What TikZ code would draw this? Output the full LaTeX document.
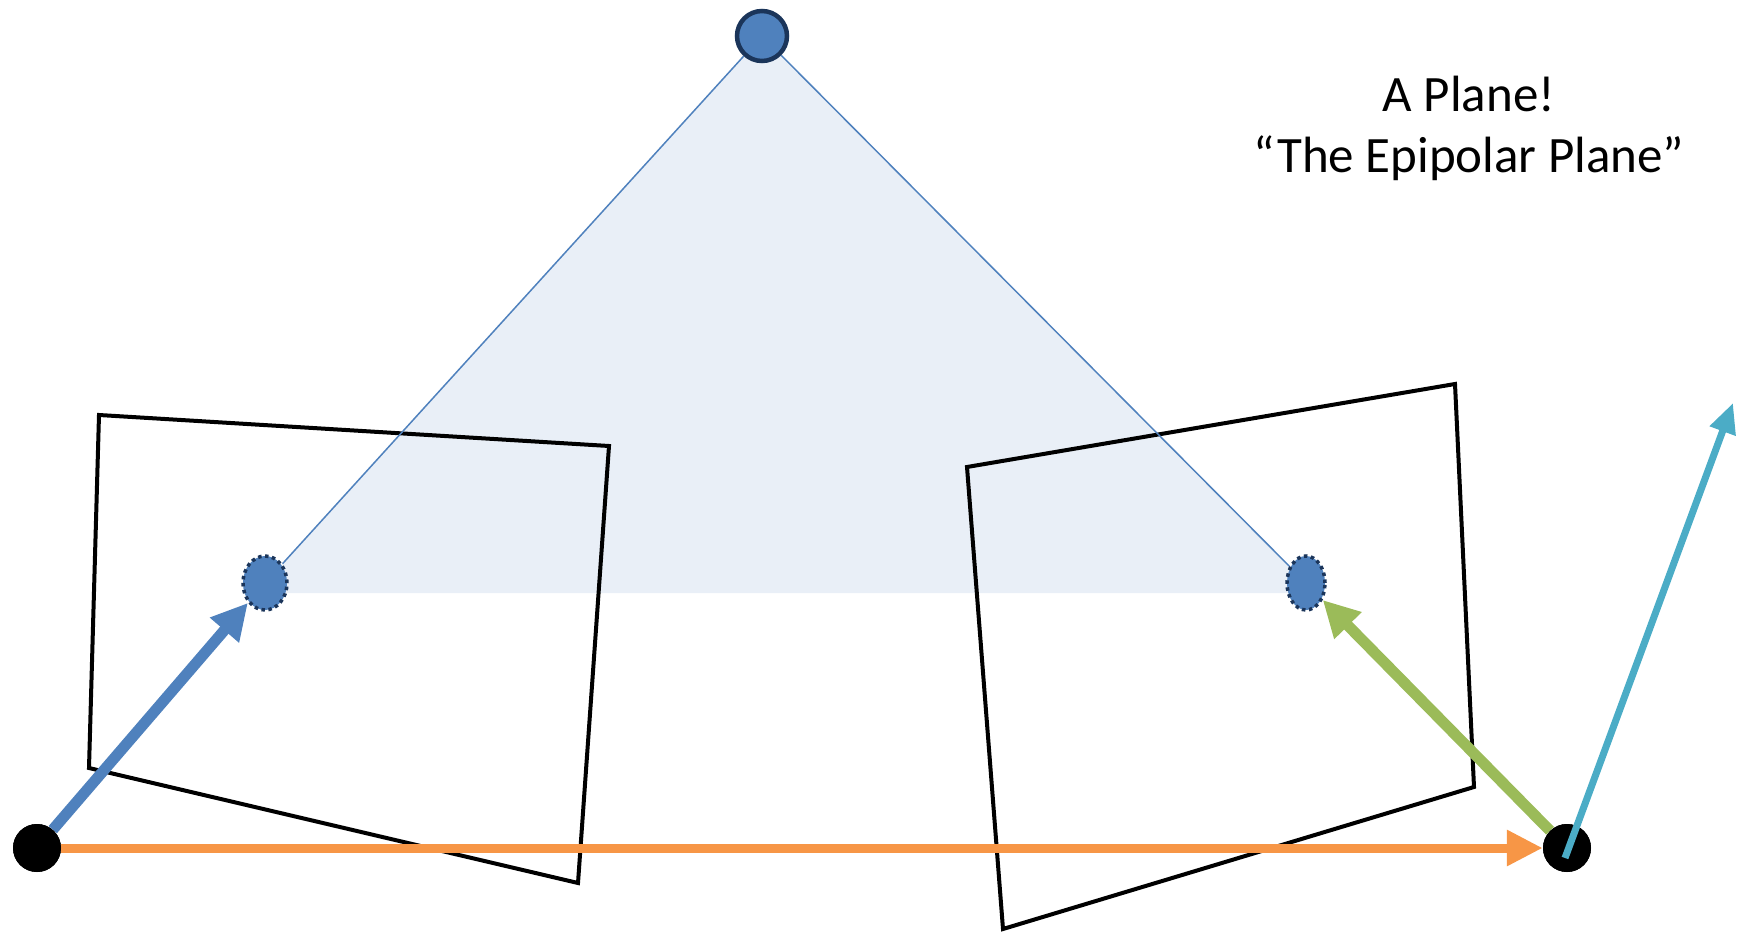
\documentclass[tikz,border=0pt]{standalone}
\usepackage{fontspec}
\setmainfont{Carlito}
\usetikzlibrary{arrows.meta,shapes.geometric}
\definecolor{ptblue}{HTML}{4F81BD}
\definecolor{ptnavy}{HTML}{1B355A}
\definecolor{planefill}{HTML}{E9EFF7}
\definecolor{arrorange}{HTML}{F79646}
\definecolor{arrgreen}{HTML}{9BBB59}
\definecolor{arrcyan}{HTML}{4BACC6}
\tikzset{
  imgplane/.style={draw=black, line width=4pt, line join=miter},
  campt/.style={circle, fill=black, minimum size=48pt, inner sep=0pt},
  worldpt/.style={circle, fill=ptblue, draw=ptnavy, line width=4.5pt, minimum size=50pt, inner sep=0pt},
  projpt/.style={ellipse, fill=ptblue, draw=ptnavy, line width=3.5pt, dash pattern=on 3.5pt off 3.5pt, inner sep=0pt},
  rayline/.style={draw=ptblue, line width=1.5pt},
  fatarrow/.style={line width=11pt, -{Triangle[length=36pt,width=36pt]}},
}
\begin{document}
\begin{tikzpicture}[x=1pt,y=-1pt]
\useasboundingbox (0,0) rectangle (1738,933);
% plane fill
\coordinate (fl) at (256,593);
\coordinate (fr) at (1316,593);
\fill[planefill] (762,36) -- (fl) -- (fr) -- cycle;
% image planes
\draw[imgplane] (99,415) -- (609,446) -- (578,883) -- (89,768) -- cycle;
\draw[imgplane] (967,467) -- (1455,384) -- (1474,787) -- (1003,929) -- cycle;
% nodes
\node[worldpt] (P) at (762,36) {};
\node[projpt, minimum width=44pt, minimum height=54pt] (pl) at (265,583) {};
\node[projpt, minimum width=38pt, minimum height=54pt] (pr) at (1306,583) {};
\node[campt] (L) at (37,848) {};
\node[campt] (R) at (1567,848) {};
% rays
\draw[rayline] (P) -- (pl);
\draw[rayline] (P) -- (pr);
% arrows
\draw[fatarrow, ptblue] (L) -- (pl);
\draw[fatarrow, arrgreen] (R) -- (pr);
\draw[line width=9pt, arrorange, -{Triangle[length=36pt,width=34pt]}] (L.east) -- (R.west);
\node[campt] at (L) {};
\node[campt] at (R) {};
\coordinate (cs) at (1565,858);
\coordinate (ce) at (1733,403);
\draw[line width=7pt, arrcyan, -{Triangle[length=30pt,width=26pt]}] (cs) -- (ce);
% label
\node[font=\fontsize{51}{61}\selectfont, align=center] (lab) at (1469,128) {A Plane!\\“The Epipolar Plane”};
\end{tikzpicture}
\end{document}
